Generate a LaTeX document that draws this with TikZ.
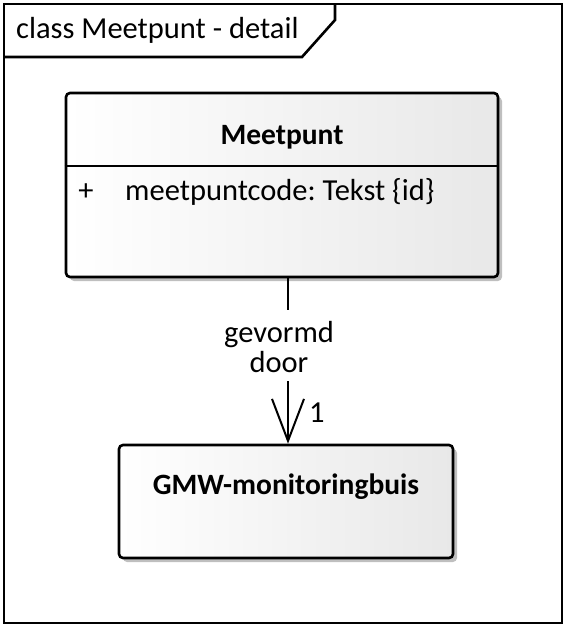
\documentclass[tikz,border=0pt]{standalone}
\usepackage{fontspec}
\setmainfont{Carlito}
\usetikzlibrary{arrows.meta,shadows}
\frenchspacing
\begin{document}
\begin{tikzpicture}[x=1pt,y=-1pt,
  txt/.style={font=\fontsize{30.5}{36}\selectfont, inner sep=0pt},
  btxt/.style={font=\fontsize{29.5}{36}\selectfont\bfseries, inner sep=0pt},
  classbox/.style={draw=black, line width=2.6pt, rounded corners=4pt,
    left color=white, right color=black!9,
    drop shadow={shadow xshift=4pt, shadow yshift=-4pt, fill=black!25, opacity=1}},
  conn/.style={line width=2pt, draw=black}]
\useasboundingbox (0,0) rectangle (566,627);
% frame
\draw[line width=2.6pt] (4,4) rectangle (562,623);
\draw[line width=2.6pt] (4,57) -- (302,57) -- (335,20) -- (335,4);
\node[txt, anchor=base west] (title) at (16,38) {class Meetpunt - detail};
% Meetpunt class
\node[classbox, minimum width=432pt, minimum height=184pt, inner sep=0pt] (mp) at (282,185) {};
\draw[line width=2.6pt] (mp.west |- 0,166) -- (mp.east |- 0,166);
\node[btxt, anchor=base] (mpname) at (282,144) {Meetpunt};
\node[txt, anchor=base] (plus) at (86,200) {+};
\node[txt, anchor=base west] (attr) at (125,200) {meetpuntcode: Tekst \{id\}};
% GMW class
\node[classbox, minimum width=334pt, minimum height=113pt, inner sep=0pt] (gmw) at (286,501.5) {};
\node[btxt, anchor=base] (gmwname) at (286,494) {GMW-monitoringbuis};
% connector
\coordinate (cx) at (288,0);
\node[txt, anchor=base] (lbl1) at (279,342) {gevormd};
\node[txt, anchor=base] (lbl2) at (279,372) {door};
\draw[conn] (mp.south -| cx) -- (288,310);
\draw[conn, -{Straight Barb[length=42pt,width=32pt,line width=2pt]}] (288,381) -- (gmw.north -| cx);
\node[txt, anchor=base west] (mult) at (309,422) {1};
\end{tikzpicture}
\end{document}
